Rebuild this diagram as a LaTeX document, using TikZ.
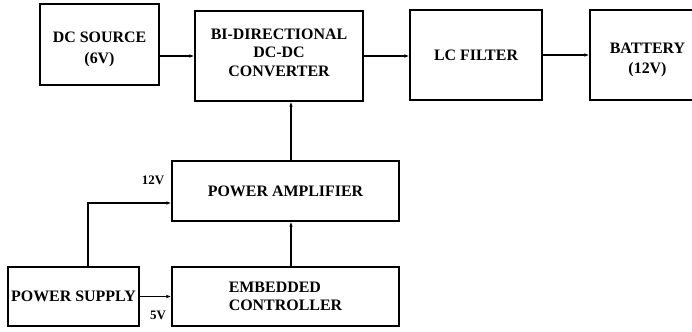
\documentclass[tikz,border=0pt]{standalone}
\usepackage{fontspec}
\setmainfont{Liberation Serif}
\usetikzlibrary{arrows.meta}
\tikzset{
  blk/.style={draw, line width=1.2bp, inner sep=0pt, align=center,
    font=\fontsize{16}{18.5}\selectfont\bfseries},
  lbl/.style={inner sep=0pt, font=\fontsize{13}{15}\selectfont\bfseries},
  arr/.style={line width=1.2bp, -{Latex[length=5bp,width=3.5bp]}},
}
\begin{document}
\begin{tikzpicture}[x=1bp,y=-1bp]
\useasboundingbox (0,0) rectangle (692,331);
% top row
\node[blk, minimum width=119bp, minimum height=81bp, font=\fontsize{16}{21}\selectfont\bfseries] (dcs) at (99.5,44.5) {\rule{0pt}{20bp}DC SOURCE\\(6V)};
\node[blk, minimum width=168bp, minimum height=90bp] (conv) at (279,56) {BI-DIRECTIONAL\\DC-DC\\CONVERTER\rule[-7bp]{0pt}{0pt}};
\node[blk, minimum width=132bp, minimum height=90bp] (lc) at (476,55) {LC FILTER};
\node[blk, minimum width=115bp, minimum height=90bp, font=\fontsize{16}{20}\selectfont\bfseries] (batt) at (647.5,55) {\rule{0pt}{20bp}BATTERY\\(12V)};
% lower part
\node[blk, minimum width=227bp, minimum height=60bp] (pa) at (285.5,191) {POWER AMPLIFIER};
\node[blk, minimum width=227bp, minimum height=59bp, align=left] (ec) at (285.5,296.5) {EMBEDDED\\CONTROLLER};
\node[blk, minimum width=131bp, minimum height=59bp] (ps) at (73.5,296.5) {POWER SUPPLY};
\node[lbl] (v12) at (153,180) {12V};
\node[lbl] (v5) at (158,315) {5V};
% connections
\draw[arr] (dcs.east |- conv.west) -- (conv.west);
\draw[arr] (conv.east) -- (lc.west |- conv.east);
\draw[arr] (lc.east) -- (batt.west);
\draw[arr] ([xshift=5.5bp]pa.north) -- ([xshift=5.5bp]pa.north |- conv.south);
\draw[arr] ([xshift=5.5bp]ec.north) -- ([xshift=5.5bp]ec.north |- pa.south);
\draw[arr] (ps.east) -- (ec.west |- ps.east);
\draw[arr] ([xshift=14.5bp]ps.north) |- ([yshift=-12bp]pa.west);
\end{tikzpicture}
\end{document}
